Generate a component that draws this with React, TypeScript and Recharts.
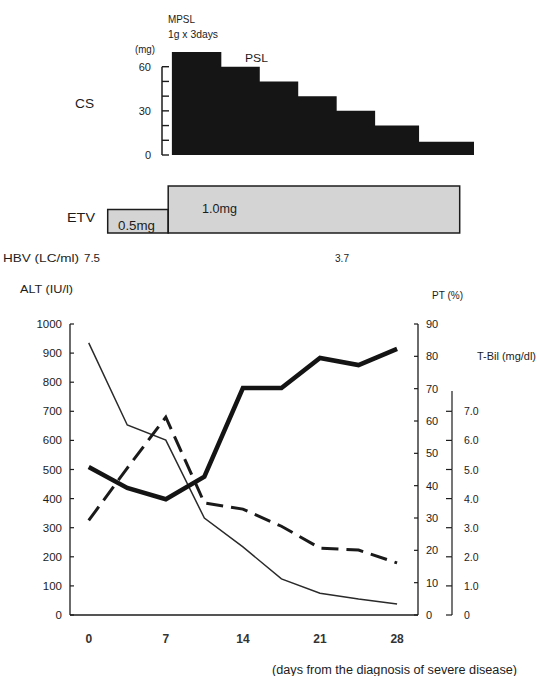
import { Area, AreaChart, Line, LineChart, ReferenceArea, ReferenceLine, XAxis, YAxis } from 'recharts'

// corticosteroid taper (step start day, dose mg)
const csStart = [7.5, 12, 15.5, 19, 22.5, 26, 30]
const csDose = [70, 60, 50, 40, 30, 20, 9]
const csEnd = 35
const csTicks = [0, 10, 20, 30, 40, 50, 60]
const csLabelled = [0, 30, 60]

// entecavir dose blocks
const etvStart = [1.7, 7.2]
const etvEnd = [7.2, 33.7]
const etvDose = [0.5, 1.0]

// lab course
const days = [0, 3.5, 7, 10.5, 14, 17.5, 21, 24.5, 28]
const alt = [935, 653, 601, 333, 234, 124, 75, 55, 38]
const pt = [45.8, 39.3, 35.8, 42.8, 70.2, 70.2, 79.5, 77.3, 82.3]
const tbil = [3.25, 5.05, 6.8, 3.85, 3.64, 3.05, 2.3, 2.23, 1.79]
const dayTicks = [0, 7, 14, 21, 28]
const altTicks = [0, 100, 200, 300, 400, 500, 600, 700, 800, 900, 1000]
const ptTicks = [0, 10, 20, 30, 40, 50, 60, 70, 80, 90]
const tbilTicks = [0, 1, 2, 3, 4, 5, 6, 7]
const tbilAxisTop = 7.7

const ink = '#1c1c1c'
const font = '"Liberation Sans", Arial, sans-serif'

const csRows = [...csStart.map((day, i) => ({ day, dose: csDose[i] })), { day: csEnd, dose: csDose[csDose.length - 1] }]
const etvRows = [...etvStart.map((day, i) => ({ day, dose: etvDose[i] })), { day: etvEnd[etvEnd.length - 1], dose: etvDose[etvDose.length - 1] }]
const labRows = days.map((day, i) => ({ day, alt: alt[i], pt: pt[i], tbil: tbil[i] }))

const main = { width: 537, height: 676, top: 324, bottom: 31, xAxisHeight: 30 }
const mainPlotH = main.height - main.top - main.bottom - main.xAxisHeight
const tbilPx = mainPlotH / 10

function CsTick({ x, y, payload }: any) {
  return <g>
    <line x1={x} y1={y} x2={x + 7} y2={y} stroke={ink} strokeWidth={1.4} />
    {csLabelled.includes(payload.value) && <text x={x - 11} y={y} textAnchor="end" dominantBaseline="central" fontSize={11} fontFamily={font} fill={ink}>{payload.value}</text>}
  </g>
}

function AltTick({ x, y, payload }: any) {
  return <g>
    <line x1={x} y1={y} x2={x + 4} y2={y} stroke={ink} strokeWidth={1.2} />
    <text x={x - 8} y={y} textAnchor="end" dominantBaseline="central" fontSize={11.5} fontFamily={font} fill={ink}>{payload.value}</text>
  </g>
}

function PtTick({ x, y, payload }: any) {
  return <g>
    <line x1={x - 4} y1={y} x2={x} y2={y} stroke={ink} strokeWidth={1.2} />
    <text x={x + 8} y={y} dominantBaseline="central" fontSize={11} fontFamily={font} fill={ink}>{payload.value}</text>
  </g>
}

function TbilTick({ x, y, payload }: any) {
  const v = payload.value
  const up = (Math.min(v + 1, tbilAxisTop) - v) * tbilPx
  return <g>
    <line x1={x} y1={y} x2={x} y2={y - up} stroke={ink} strokeWidth={1.2} />
    <line x1={x - 6} y1={y} x2={x} y2={y} stroke={ink} strokeWidth={1.2} />
    <text x={x + 12} y={y} dominantBaseline="central" fontSize={10.5} fontFamily={font} fill={ink}>{v === 0 ? '0' : v.toFixed(1)}</text>
  </g>
}

// text, x, y, font size, width
const notes: [string, number, number, number, number][] = [
  ['MPSL', 168, 19, 11, 27],
  ['1g x 3days', 168, 34, 10.5, 50],
  ['(mg)', 135, 49, 10, 20],
  ['PSL', 245, 58, 11, 23],
  ['CS', 75, 103, 13, 19],
  ['ETV', 67, 217, 13, 28],
  ['0.5mg', 118, 226, 12, 37],
  ['1.0mg', 202, 209, 12, 35],
  ['HBV (LC/ml)', 3, 258, 11, 76],
  ['7.5', 84, 258, 11.5, 16],
  ['3.7', 335, 258, 11.5, 14],
  ['ALT (IU/l)', 20, 289, 11.5, 53],
  ['PT (%)', 432, 295, 11, 31],
  ['T-Bil (mg/dl)', 477, 356, 11, 59],
  ['(days from the diagnosis of severe disease)', 272, 670, 12.5, 245],
]

export default function App() {
  const layer = { position: 'absolute' as const, left: 0, top: 0 }
  return <div style={{ position: 'absolute', left: 0, top: 0, width: 537, height: 676, background: '#fff' }}>
    <div style={layer}>
      <AreaChart width={537} height={170} data={csRows} margin={{ top: 52, right: 63, bottom: 15, left: 0 }}>
        <XAxis type="number" dataKey="day" domain={[6.6, csEnd]} hide />
        <YAxis width={162} domain={[0, 70]} ticks={csTicks} interval={0} axisLine={false} tickLine={false} tickSize={0} tickMargin={0} tick={CsTick} />
        <Area type="stepAfter" dataKey="dose" fill="#151515" fillOpacity={1} stroke="none" isAnimationActive={false} />
        <ReferenceLine segment={[{ x: 6.6, y: 0 }, { x: 6.6, y: 60 }]} stroke={ink} strokeWidth={1.5} />
      </AreaChart>
    </div>
    <div style={layer}>
      <AreaChart width={537} height={240} data={etvRows} margin={{ top: 186, right: 63, bottom: 7, left: 89 }}>
        <XAxis type="number" dataKey="day" domain={[0, 35]} hide />
        <YAxis domain={[0, 1]} hide />
        <Area type="stepAfter" dataKey="dose" fill="#d4d4d4" fillOpacity={1} stroke="none" isAnimationActive={false} />
        {etvStart.map((s, i) => <ReferenceArea key={i} x1={s} x2={etvEnd[i]} y1={0} y2={etvDose[i]} fill="none" stroke={ink} strokeWidth={1.5} ifOverflow="visible" />)}
      </AreaChart>
    </div>
    <div style={layer}>
      <LineChart width={main.width} height={main.height} data={labRows} margin={{ top: main.top, right: 0, bottom: main.bottom, left: 0 }}>
        <XAxis type="number" dataKey="day" domain={[-1.7, 29.9]} ticks={dayTicks} interval={0} height={main.xAxisHeight} tickLine={false} tickSize={6} tickMargin={13} axisLine={{ stroke: ink, strokeWidth: 1.3 }} tick={{ fontSize: 12, fontWeight: 'bold', fontFamily: font, fill: '#333' }} />
        <YAxis yAxisId="alt" orientation="left" width={70} domain={[0, 1000]} ticks={altTicks} interval={0} axisLine={{ stroke: ink, strokeWidth: 1.3 }} tickLine={false} tickSize={0} tickMargin={0} tick={AltTick} />
        <YAxis yAxisId="pt" orientation="right" width={34} domain={[0, 90]} ticks={ptTicks} interval={0} axisLine={{ stroke: ink, strokeWidth: 1.3 }} tickLine={false} tickSize={0} tickMargin={0} tick={PtTick} />
        <YAxis yAxisId="tbil" orientation="right" width={85} domain={[0, 10]} ticks={tbilTicks} interval={0} axisLine={false} tickLine={false} tickSize={0} tickMargin={0} tick={TbilTick} />
        <Line yAxisId="alt" dataKey="alt" stroke="#2a2a2a" strokeWidth={1.5} dot={false} isAnimationActive={false} />
        <Line yAxisId="tbil" dataKey="tbil" stroke="#1a1a1a" strokeWidth={3} strokeDasharray="17 8" dot={false} isAnimationActive={false} />
        <Line yAxisId="pt" dataKey="pt" stroke="#141414" strokeWidth={4.5} dot={false} isAnimationActive={false} />
      </LineChart>
    </div>
    <svg width={537} height={676} style={{ ...layer, pointerEvents: 'none' }}>
      {notes.map(([t, x, y, fs, w]) => <text key={t} x={x} y={y} dominantBaseline="central" fontSize={fs} fontFamily={font} fill={ink} textLength={w} lengthAdjust="spacingAndGlyphs">{t}</text>)}
    </svg>
  </div>
}
